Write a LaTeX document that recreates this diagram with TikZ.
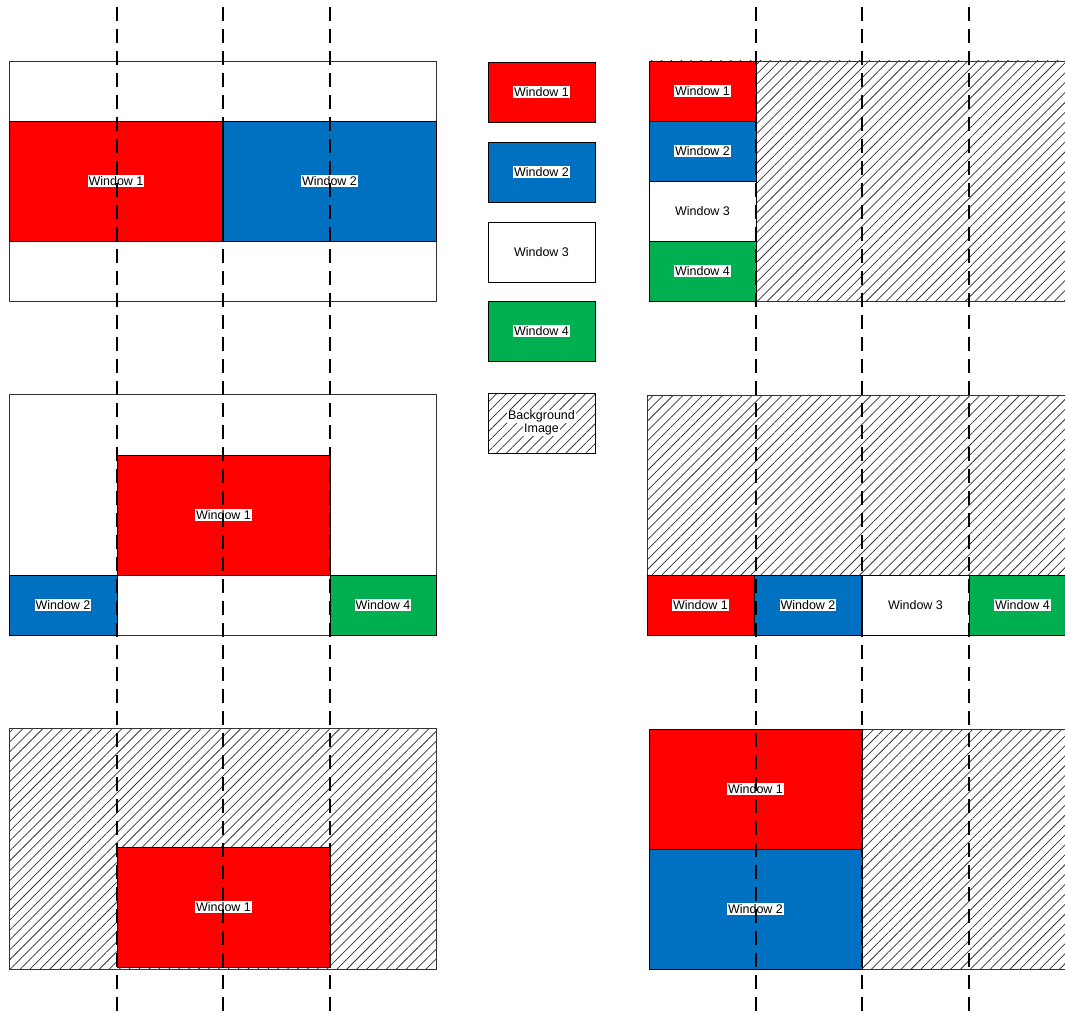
\documentclass[tikz,border=0pt]{standalone}
\usepackage{fontspec}
\setmainfont{Liberation Sans}
\usepackage{xcolor}
\usetikzlibrary{patterns.meta}

\definecolor{winred}{HTML}{FF0000}
\definecolor{winblue}{HTML}{0070C0}
\definecolor{wingreen}{HTML}{00B050}
\newcommand{\wlab}[1]{{\setlength{\fboxsep}{1pt}\colorbox{white}{#1}}}

\begin{document}
\begin{tikzpicture}[
    x=1pt, y=-1pt,
    win/.style={draw, rectangle, minimum width=107pt, minimum height=60pt, inner sep=0pt, line width=0.9pt, align=center, font=\fontsize{12.5}{14}\selectfont},
    bigwin/.style={win, minimum width=213pt, minimum height=120pt},
    panel/.style={draw=black!80, line width=0.8pt, fill=white},
    hatch/.style={draw=black!80, line width=0.8pt, pattern={Lines[angle=45, distance=7pt, line width=0.75pt]}, pattern color=black!80},
    guide/.style={line width=1.5pt, dash pattern=on 14pt off 8pt}
  ]
  \useasboundingbox (0,0) rectangle (1065,1019);
  \clip (0,0) rectangle (1065,1019);

  % Left column
  \draw[panel] (9,61) rectangle (436,301);
  \node[bigwin, fill=winred] (a1) at (116,181) {\wlab{Window 1}};
  \node[bigwin, fill=winblue] (a2) at (329.5,181) {\wlab{Window 2}};

  \draw[panel] (9,394) rectangle (436,635);
  \node[bigwin, fill=winred] (b1) at (223.5,515) {\wlab{Window 1}};
  \node[win, fill=winblue, minimum width=108pt] (b2) at (63,605) {\wlab{Window 2}};
  \node[win, fill=wingreen, minimum width=106pt] (b4) at (383,605) {\wlab{Window 4}};

  \draw[hatch] (9,728) rectangle (436,969);
  \node[bigwin, fill=winred] (c1) at (223.5,907) {\wlab{Window 1}};

  % Legend
  \node[win, fill=winred] (l1) at (541.5,92) {\wlab{Window 1}};
  \node[win, fill=winblue] (l2) at (541.5,172) {\wlab{Window 2}};
  \node[win, fill=white] (l3) at (541.5,252) {Window 3};
  \node[win, fill=wingreen] (l4) at (541.5,331) {\wlab{Window 4}};
  \node[win, hatch, draw=black] (lbg) at (541.5,423) {\wlab{Background}\\[-1pt]\wlab{Image}};

  % Right column
  \draw[hatch] (649,61) rectangle (1076,301);
  \node[win, fill=winred] (d1) at (702.5,91) {\wlab{Window 1}};
  \node[win, fill=winblue] (d2) at (702.5,151) {\wlab{Window 2}};
  \node[win, fill=white] (d3) at (702.5,211) {Window 3};
  \node[win, fill=wingreen] (d4) at (702.5,271) {\wlab{Window 4}};

  \draw[hatch] (647,395) rectangle (1076,635);
  \node[win, fill=winred] (e1) at (700.5,605) {\wlab{Window 1}};
  \node[win, fill=winblue] (e2) at (808,605) {\wlab{Window 2}};
  \node[win, fill=white] (e3) at (915.5,605) {Window 3};
  \node[win, fill=wingreen] (e4) at (1022.5,605) {\wlab{Window 4}};

  \draw[hatch] (649,729) rectangle (1076,969);
  \node[bigwin, fill=winred] (f1) at (755.5,789) {\wlab{Window 1}};
  \node[bigwin, fill=winblue] (f2) at (755.5,909) {\wlab{Window 2}};

  % Grid lines
  \foreach \gx in {117,223,330,756,862,969}
    \draw[guide] (\gx,7) -- (\gx,1019);
\end{tikzpicture}
\end{document}
